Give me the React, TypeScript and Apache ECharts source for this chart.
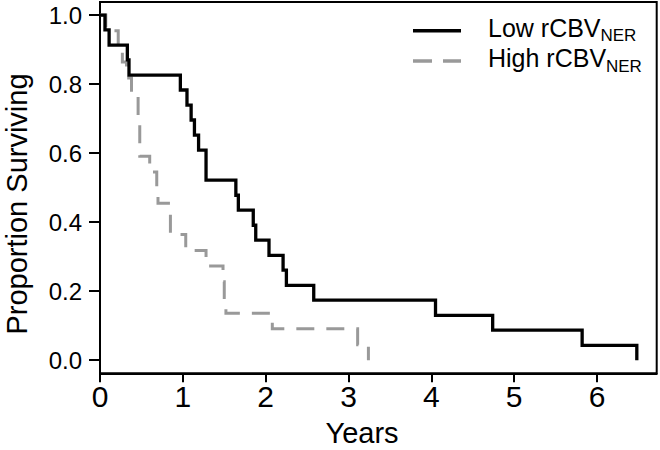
import React, { useEffect, useRef } from "react";
import * as echarts from "echarts";

// Kaplan-Meier estimates
const lowTimes = [0, 0.06, 0.11, 0.33, 0.35, 0.97, 1.05, 1.1, 1.14, 1.19, 1.28, 1.64, 1.67, 1.85, 1.88, 2.04, 2.21, 2.25, 2.58, 4.05, 4.74, 5.82, 6.48];
const lowSurvival = [1, 0.957, 0.913, 0.87, 0.826, 0.783, 0.739, 0.696, 0.652, 0.609, 0.522, 0.478, 0.435, 0.391, 0.348, 0.304, 0.261, 0.217, 0.174, 0.13, 0.087, 0.043, 0];

const highTimes = [0, 0.07, 0.22, 0.27, 0.32, 0.38, 0.46, 0.48, 0.6, 0.685, 0.7, 0.85, 1.035, 1.28, 1.485, 1.5, 1.52, 2.08, 3.11, 3.24];
const highSurvival = [1, 0.955, 0.909, 0.864, 0.818, 0.773, 0.682, 0.591, 0.545, 0.5, 0.455, 0.364, 0.318, 0.273, 0.227, 0.182, 0.136, 0.091, 0.045, 0];

const xTicks = [0, 1, 2, 3, 4, 5, 6];
const yTicks = [0, 0.2, 0.4, 0.6, 0.8, 1.0];
const seriesNames = ["Low rCBV", "High rCBV"];
const subscriptText = "NER";
const xTitle = "Years";
const yTitle = "Proportion Surviving";

const FONT = "'Liberation Sans', Arial, Helvetica, sans-serif";
const GRAY = "#999999";

export default function App() {
  const ref = useRef<HTMLDivElement>(null);

  useEffect(() => {
    const chart = echarts.init(ref.current!, null, { renderer: "svg" });
    chart.setOption({
      animation: false,
      backgroundColor: "#ffffff",
      grid: {
        left: 100,
        right: 3.3,
        top: 2,
        bottom: 76.7,
        show: true,
        borderColor: "#000",
        borderWidth: 2,
        backgroundColor: "transparent",
      },
      xAxis: {
        type: "value",
        min: 0,
        max: 6.72,
        axisLine: { show: true, onZero: false, lineStyle: { color: "#000", width: 2 } },
        axisTick: { show: true, length: 9, customValues: xTicks, lineStyle: { color: "#000", width: 2 } },
        axisLabel: { customValues: xTicks, color: "#000", fontSize: 30, fontFamily: FONT, margin: 8 },
        splitLine: { show: false },
      },
      yAxis: {
        type: "value",
        min: -0.038,
        max: 1.038,
        axisLine: { show: true, onZero: false, lineStyle: { color: "#000", width: 2 } },
        axisTick: { show: true, length: 11, customValues: yTicks, lineStyle: { color: "#000", width: 2 } },
        axisLabel: {
          customValues: yTicks,
          color: "#000",
          fontSize: 24,
          fontFamily: FONT,
          margin: 18,
          formatter: (v: number) => v.toFixed(1),
        },
        splitLine: { show: false },
      },
      series: [
        {
          name: seriesNames[1],
          type: "line",
          step: "end",
          symbol: "none",
          data: highTimes.map((t, i) => [t, highSurvival[i]]),
          lineStyle: { color: GRAY, width: 3, type: [18, 12], cap: "butt", join: "miter" },
          z: 2,
        },
        {
          name: seriesNames[0],
          type: "line",
          step: "end",
          symbol: "none",
          data: lowTimes.map((t, i) => [t, lowSurvival[i]]),
          lineStyle: { color: "#000", width: 3.3, cap: "butt", join: "miter" },
          z: 3,
        },
      ],
      graphic: [
        {
          type: "text",
          x: 16.5,
          y: 204,
          rotation: Math.PI / 2,
          style: { text: yTitle, fontSize: 29, fontFamily: FONT, fill: "#000", align: "center", verticalAlign: "middle" },
        },
        {
          type: "text",
          x: 362,
          y: 433,
          style: { text: xTitle, fontSize: 29, fontFamily: FONT, fill: "#000", align: "center", verticalAlign: "middle" },
        },
        {
          type: "line",
          shape: { x1: 413, y1: 30.7, x2: 461, y2: 30.7 },
          style: { stroke: "#000", lineWidth: 3.5 },
        },
        {
          type: "line",
          shape: { x1: 413, y1: 61, x2: 461, y2: 61 },
          style: { stroke: GRAY, lineWidth: 3.5, lineDash: [19, 11] },
        },
        {
          type: "text",
          x: 488,
          y: 28.4,
          style: { text: seriesNames[0], fontSize: 25, fontFamily: FONT, fill: "#000", align: "left", verticalAlign: "middle" },
        },
        {
          type: "text",
          x: 600.5,
          y: 35.6,
          style: { text: subscriptText, fontSize: 17, fontFamily: FONT, fill: "#000", align: "left", verticalAlign: "middle" },
        },
        {
          type: "text",
          x: 488,
          y: 57.8,
          style: { text: seriesNames[1], fontSize: 25, fontFamily: FONT, fill: "#000", align: "left", verticalAlign: "middle" },
        },
        {
          type: "text",
          x: 606,
          y: 66.9,
          style: { text: subscriptText, fontSize: 17, fontFamily: FONT, fill: "#000", align: "left", verticalAlign: "middle" },
        },
      ],
    });
    return () => chart.dispose();
  }, []);

  return <div ref={ref} style={{ position: "fixed", left: 0, top: 0, width: 660, height: 450 }} />;
}
